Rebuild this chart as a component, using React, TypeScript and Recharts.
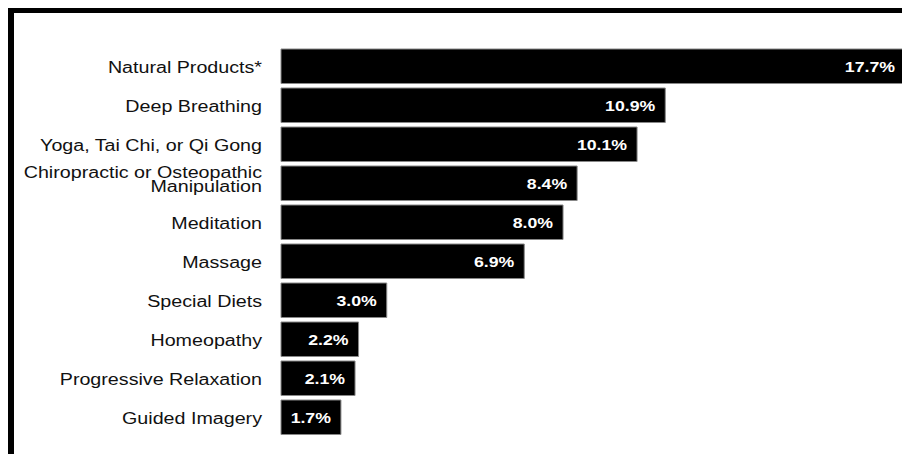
import { BarChart, Bar, XAxis, YAxis, LabelList } from 'recharts';

const categories = [
  'Natural Products*',
  'Deep Breathing',
  'Yoga, Tai Chi, or Qi Gong',
  'Chiropractic or Osteopathic Manipulation',
  'Meditation',
  'Massage',
  'Special Diets',
  'Homeopathy',
  'Progressive Relaxation',
  'Guided Imagery',
];

const percentValues = [17.7, 10.9, 10.1, 8.4, 8.0, 6.9, 3.0, 2.2, 2.1, 1.7];

const data = categories.map((name, i) => ({ name, value: percentValues[i] }));

const FONT = '"Liberation Sans", Arial, Helvetica, sans-serif';
// the reference picture is stretched a bit horizontally
const STRETCH = 1.23;

// break long labels onto two lines
const wrap = (label: string, max = 28) => {
  const words = label.split(' ');
  const lines: string[] = [];
  let cur = '';
  words.forEach((w) => {
    const next = cur ? `${cur} ${w}` : w;
    if (next.length > max && cur) {
      lines.push(cur);
      cur = w;
    } else {
      cur = next;
    }
  });
  if (cur) lines.push(cur);
  return lines;
};

// eslint-disable-next-line @typescript-eslint/no-explicit-any
const CategoryTick = (props: any) => {
  const { y, payload } = props;
  const lines = wrap(String(payload.value));
  const lineH = 14.5;
  // two-line label sits a little above the bar centre in the original
  const first = lines.length > 1 ? -6 : 6;
  return (
    <g transform={`translate(262,${y})`}>
      <text
        transform={`scale(${STRETCH},1)`}
        textAnchor="end"
        fill="#111"
        fontFamily={FONT}
        fontSize={16}
      >
        {lines.map((l, i) => (
          <tspan key={i} x={0} y={first + i * lineH}>
            {l}
          </tspan>
        ))}
      </text>
    </g>
  );
};

// eslint-disable-next-line @typescript-eslint/no-explicit-any
const ValueLabel = (props: any) => {
  const { x, y, width, height, value } = props;
  return (
    <g transform={`translate(${x + width - 10},${y + height / 2})`}>
      <text
        transform={`scale(1.18,1)`}
        textAnchor="end"
        y={5.5}
        fill="#ffffff"
        fontFamily={FONT}
        fontWeight="bold"
        fontSize={15}
      >
        {`${Number(value).toFixed(1)}%`}
      </text>
    </g>
  );
};

export default function App() {
  return (
    <div style={{ position: 'relative', width: 910, height: 462, margin: -8, overflow: 'hidden', background: '#fff' }}>
      {/* frame */}
      <div
        style={{
          position: 'absolute',
          boxSizing: 'border-box',
          left: 8,
          top: 7,
          width: 1000,
          height: 454,
          borderTop: '6px solid #000',
          borderLeft: '6px solid #000',
          borderBottom: '2px solid #777',
        }}
      />
      <div style={{ position: 'absolute', left: 0, top: 0 }}>
        <BarChart
          width={910}
          height={462}
          data={data}
          layout="vertical"
          margin={{ top: 47, right: 5, bottom: 25, left: 0 }}
        >
          <XAxis type="number" hide domain={[0, 'dataMax']} />
          <YAxis
            type="category"
            dataKey="name"
            width={281}
            axisLine={false}
            tickLine={false}
            tick={<CategoryTick />}
            interval={0}
          />
          <Bar dataKey="value" fill="#000" stroke="#888" strokeWidth={1} barSize={34.5} isAnimationActive={false}>
            <LabelList dataKey="value" content={<ValueLabel />} />
          </Bar>
        </BarChart>
      </div>
    </div>
  );
}
